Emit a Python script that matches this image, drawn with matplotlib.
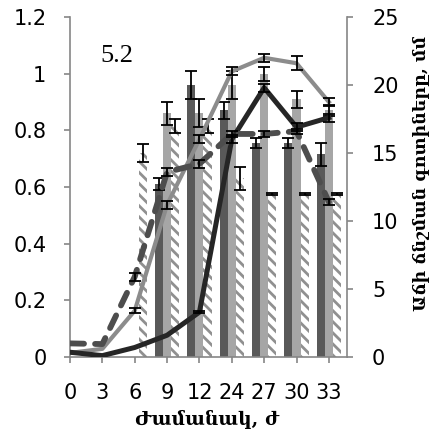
import matplotlib
matplotlib.use("Agg")
import matplotlib.pyplot as plt
import numpy as np

categories = ['0', '3', '6', '9', '12', '24', '27', '30', '33']

bar_dark = [0, 0, 0, 0.61, 0.96, 0.87, 0.755, 0.755, 0.715]
bar_dark_err = [0, 0, 0, 0.02, 0.05, 0.03, 0.018, 0.018, 0.04]
bar_light = [0, 0, 0, 0.86, 0.86, 0.96, 1.0, 0.91, 0.87]
bar_light_err = [0, 0, 0, 0.04, 0.05, 0.05, 0.025, 0.03, 0.02]
bar_hatch = [0, 0, 0.72, 0.815, 0.815, 0.63, 0.575, 0.575, 0.575]
bar_hatch_err = [0, 0, 0.03, 0.025, 0.025, 0.04, 0.004, 0.004, 0.004]

line_light = [0.3, 0.6, 3.4, 11.2, 16.0, 21.0, 22.0, 21.6, 18.75]
line_light_err = [0, 0, 0.2, 0.3, 0.3, 0.3, 0.3, 0.5, 0.3]
line_black = [0.35, 0.1, 0.7, 1.6, 3.3, 16.0, 19.8, 16.9, 17.6]
line_black_err = [0, 0, 0, 0, 0.1, 0.3, 0.3, 0.3, 0.3]
line_dash = [1.0, 0.95, 5.9, 13.6, 14.2, 16.4, 16.4, 16.6, 11.4]
line_dash_err = [0, 0, 0.3, 0.3, 0.3, 0.2, 0.2, 0.2, 0.2]

left_ticks = [0, 0.2, 0.4, 0.6, 0.8, 1.0, 1.2]
left_labels = ['0', '0.2', '0.4', '0.6', '0.8', '1', '1.2']
right_ticks = [0, 5, 10, 15, 20, 25]

xlabel = 'Ժամանակ, ժ'
ylabel_right = 'Աճի ճնշման գոտիները, մմ'
note = '5.2'

plt.rcParams['hatch.linewidth'] = 2.0
W, H = 448, 436
fig = plt.figure(figsize=(W / 100, H / 100), dpi=100)
ax = fig.add_axes([70 / W, 1 - 357 / H, (347 - 70) / W, (357 - 17) / H])
ax2 = ax.twinx()

x = np.arange(len(categories))
bw = 0.25
spine_c = '#868686'


def with_err(xs, ys, es, axis):
    ys = np.asarray(ys, float)
    es = np.asarray(es, float)
    m = es > 0
    axis.errorbar(np.asarray(xs)[m], ys[m], yerr=es[m], fmt='none', ecolor='black',
                  elinewidth=1.3, capsize=4.5, capthick=1.3, zorder=7)


ax.bar(x - bw, bar_dark, bw, color='#595959', linewidth=0, zorder=2)
ax.bar(x, bar_light, bw, color='#a6a6a6', linewidth=0, zorder=2)
ax.bar(x + bw, bar_hatch, bw, color='white', edgecolor='#909090', hatch='\\\\\\', linewidth=0, zorder=2)
with_err(x - bw, bar_dark, bar_dark_err, ax)
with_err(x, bar_light, bar_light_err, ax)
with_err(x + bw, bar_hatch, bar_hatch_err, ax)

ax2.plot(x, line_light, color='#8c8c8c', lw=3.0, zorder=4)
ax2.plot(x, line_black, color='#262626', lw=3.6, zorder=5)
ax2.plot(x, line_dash, color='#4d4d4d', lw=4.2, dashes=(2.4, 1.9), dash_capstyle='round', zorder=6)
with_err(x, line_light, line_light_err, ax2)
with_err(x, line_black, line_black_err, ax2)
with_err(x, line_dash, line_dash_err, ax2)

ax.set_xlim(0, 8.56)
ax.set_ylim(0, 1.2)
ax2.set_ylim(0, 25)
ax.set_yticks(left_ticks)
ax.set_yticklabels(left_labels)
ax2.set_yticks(right_ticks)
ax.set_xticks(x)
ax.set_xticklabels(categories)

for a in (ax, ax2):
    a.spines['top'].set_visible(False)
    for s in ('left', 'right', 'bottom'):
        a.spines[s].set_color(spine_c)
        a.spines[s].set_linewidth(1.2)
ax.spines['right'].set_visible(False)
ax2.spines['left'].set_visible(False)
ax2.spines['bottom'].set_visible(False)

ax.tick_params(axis='y', direction='out', length=4.5, width=1.2, color=spine_c, labelsize=15, pad=12.5)
ax.tick_params(axis='x', direction='out', length=4.5, width=1.2, color=spine_c, labelsize=15, pad=14)
ax2.tick_params(axis='y', direction='out', length=4.5, width=1.2, color=spine_c, labelsize=15, pad=13.5)

fig.text(207 / W, 1 - 425 / H, xlabel, ha='center', va='baseline', fontsize=13.5,
         fontweight='bold', family=['DejaVu Serif', 'DejaVu Sans'])
fig.text(421 / W, 1 - 173 / H, ylabel_right, ha='center', va='center', rotation=90,
         fontsize=12.5, fontweight='bold', family=['DejaVu Serif', 'DejaVu Sans'])

fig.text(117 / W, 1 - 56 / H, note, ha='center', va='center', fontsize=19, family='Liberation Serif')

fig.savefig('out.png', dpi=100)
